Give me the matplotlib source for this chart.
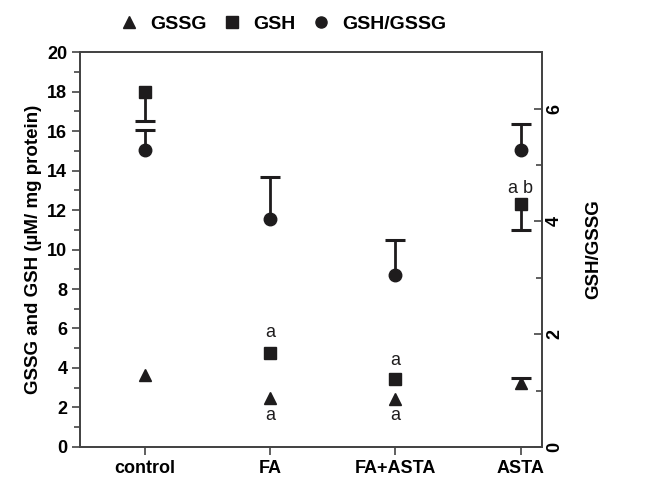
import matplotlib
matplotlib.use("Agg")
import matplotlib.pyplot as plt
from matplotlib.lines import Line2D
from matplotlib.ticker import MultipleLocator

plt.rcParams['font.family'] = ['Liberation Sans', 'DejaVu Sans']

groups = ["control", "FA", "FA+ASTA", "ASTA"]
gssg = [3.65, 2.47, 2.43, 3.23]
gssg_err = [0, 0, 0, 0.27]
gsh = [18.0, 4.75, 3.43, 12.3]
gsh_err = [1.5, 0, 0, 1.3]
ratio = [5.27, 4.05, 3.05, 5.27]
ratio_err = [0.35, 0.74, 0.62, 0.45]

# significance letters (group index, y in left units, text)
letters = [(1, 5.8, "a"), (1, 1.6, "a"), (2, 4.4, "a"), (2, 1.6, "a"), (3, 13.1, "a b")]

ink = "#1e1c1d"
x = list(range(len(groups)))

fig = plt.figure(figsize=(6.6, 4.79), dpi=100)
ax = fig.add_axes([0.121, 0.067, 0.700, 0.824])
ax2 = ax.twinx()


def one_sided(a, xs, ys, errs, up):
    # stem + cap only on the error side, nothing where error is zero
    for xi, yi, ei in zip(xs, ys, errs):
        if ei > 0:
            end = yi + ei if up else yi - ei
            a.plot([xi, xi], [yi, end], color=ink, lw=2, zorder=2)
            a.plot([xi], [end], marker="_", color=ink, ms=14, mew=2.2, zorder=2)


one_sided(ax, x, gssg, gssg_err, True)
one_sided(ax, x, gsh, gsh_err, False)
one_sided(ax2, x, ratio, ratio_err, True)
ax.plot(x, gssg, "^", color=ink, ms=8.5, ls="none", zorder=3)
ax.plot(x, gsh, "s", color=ink, ms=8.5, ls="none", zorder=3)
ax2.plot(x, ratio, "o", color=ink, ms=9, ls="none", zorder=3)

for i, y, t in letters:
    ax.text(i, y, t, ha="center", va="center", fontsize=13, color=ink)

ax.set_xlim(-0.52, 3.17)
ax.set_ylim(0, 20)
ax2.set_ylim(0, 7)
ax.set_xticks(x)
ax.set_xticklabels(groups, fontsize=13, fontweight="bold")
ax.yaxis.set_major_locator(MultipleLocator(2))
ax.yaxis.set_minor_locator(MultipleLocator(1))
ax2.yaxis.set_major_locator(MultipleLocator(2))
ax2.yaxis.set_minor_locator(MultipleLocator(1))
for lab in ax.get_yticklabels():
    lab.set_fontweight("bold")
    lab.set_fontsize(13)
for lab in ax2.get_yticklabels():
    lab.set_fontweight("bold")
    lab.set_fontsize(13)
    lab.set_rotation(90)
    lab.set_va("center")

ax.tick_params(axis="both", which="both", direction="out", color="#444444", width=1.2)
ax.tick_params(axis="y", which="major", length=6, pad=3)
ax.tick_params(axis="y", which="minor", length=4)
ax.tick_params(axis="x", length=6)
ax2.tick_params(axis="y", which="major", direction="in", length=6, width=1.2, color="#444444", pad=3)
ax2.tick_params(axis="y", which="minor", direction="in", length=4, width=1.2, color="#444444")

for a in (ax, ax2):
    for s in a.spines.values():
        s.set_color("#444444")
        s.set_linewidth(1.3)

ax.set_ylabel("GSSG and GSH (\u00b5M/ mg protein)", fontsize=13.5, fontweight="bold", labelpad=4)
ax2.set_ylabel("GSH/GSSG", fontsize=13.5, fontweight="bold", rotation=90, labelpad=16)

handles = [Line2D([], [], marker="^", ls="none", color=ink, ms=8),
           Line2D([], [], marker="s", ls="none", color=ink, ms=8),
           Line2D([], [], marker="o", ls="none", color=ink, ms=8)]
leg = fig.legend(handles, ["GSSG", "GSH", "GSH/GSSG"], loc="upper center",
                 bbox_to_anchor=(0.428, 1.005), ncol=3, frameon=False,
                 prop={"weight": "bold", "size": 14}, handlelength=1.0,
                 handletextpad=0.6, columnspacing=0.8)

fig.savefig("out.png", dpi=100)
